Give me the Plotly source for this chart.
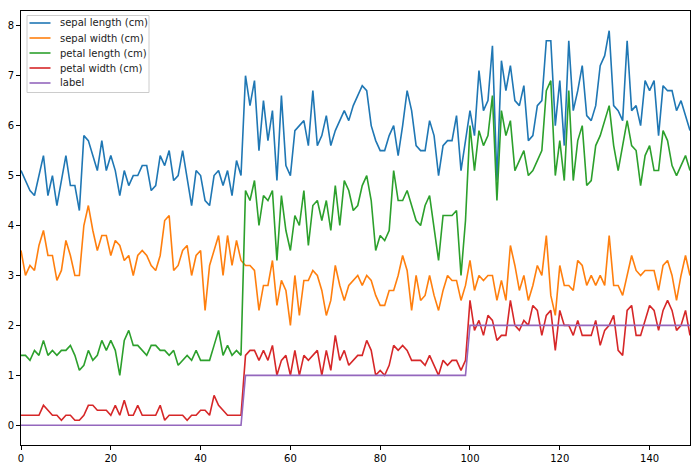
import plotly.graph_objects as go

sepal_length = [5.1,4.9,4.7,4.6,5.0,5.4,4.6,5.0,4.4,4.9,5.4,4.8,4.8,4.3,5.8,5.7,5.4,5.1,5.7,5.1,
5.4,5.1,4.6,5.1,4.8,5.0,5.0,5.2,5.2,4.7,4.8,5.4,5.2,5.5,4.9,5.0,5.5,4.9,4.4,5.1,
5.0,4.5,4.4,5.0,5.1,4.8,5.1,4.6,5.3,5.0,
7.0,6.4,6.9,5.5,6.5,5.7,6.3,4.9,6.6,5.2,5.0,5.9,6.0,6.1,5.6,6.7,5.6,5.8,6.2,5.6,
5.9,6.1,6.3,6.1,6.4,6.6,6.8,6.7,6.0,5.7,5.5,5.5,5.8,6.0,5.4,6.0,6.7,6.3,5.6,5.5,
5.5,6.1,5.8,5.0,5.6,5.7,5.7,6.2,5.1,5.7,
6.3,5.8,7.1,6.3,6.5,7.6,4.9,7.3,6.7,7.2,6.5,6.4,6.8,5.7,5.8,6.4,6.5,7.7,7.7,6.0,
6.9,5.6,7.7,6.3,6.7,7.2,6.2,6.1,6.4,7.2,7.4,7.9,6.4,6.3,6.1,7.7,6.3,6.4,6.0,6.9,
6.7,6.9,5.8,6.8,6.7,6.7,6.3,6.5,6.2,5.9]

sepal_width = [3.5,3.0,3.2,3.1,3.6,3.9,3.4,3.4,2.9,3.1,3.7,3.4,3.0,3.0,4.0,4.4,3.9,3.5,3.8,3.8,
3.4,3.7,3.6,3.3,3.4,3.0,3.4,3.5,3.4,3.2,3.1,3.4,4.1,4.2,3.1,3.2,3.5,3.6,3.0,3.4,
3.5,2.3,3.2,3.5,3.8,3.0,3.8,3.2,3.7,3.3,
3.2,3.2,3.1,2.3,2.8,2.8,3.3,2.4,2.9,2.7,2.0,3.0,2.2,2.9,2.9,3.1,3.0,2.7,2.2,2.5,
3.2,2.8,2.5,2.8,2.9,3.0,2.8,3.0,2.9,2.6,2.4,2.4,2.7,2.7,3.0,3.4,3.1,2.3,3.0,2.5,
2.6,3.0,2.6,2.3,2.7,3.0,2.9,2.9,2.5,2.8,
3.3,2.7,3.0,2.9,3.0,3.0,2.5,2.9,2.5,3.6,3.2,2.7,3.0,2.5,2.8,3.2,3.0,3.8,2.6,2.2,
3.2,2.8,2.8,2.7,3.3,3.2,2.8,3.0,2.8,3.0,2.8,3.8,2.8,2.8,2.6,3.0,3.4,3.1,3.0,3.1,
3.1,3.1,2.7,3.2,3.3,3.0,2.5,3.0,3.4,3.0]

petal_length = [1.4,1.4,1.3,1.5,1.4,1.7,1.4,1.5,1.4,1.5,1.5,1.6,1.4,1.1,1.2,1.5,1.3,1.4,1.7,1.5,
1.7,1.5,1.0,1.7,1.9,1.6,1.6,1.5,1.4,1.6,1.6,1.5,1.5,1.4,1.5,1.2,1.3,1.4,1.3,1.5,
1.3,1.3,1.3,1.6,1.9,1.4,1.6,1.4,1.5,1.4,
4.7,4.5,4.9,4.0,4.6,4.5,4.7,3.3,4.6,3.9,3.5,4.2,4.0,4.7,3.6,4.4,4.5,4.1,4.5,3.9,
4.8,4.0,4.9,4.7,4.3,4.4,4.8,5.0,4.5,3.5,3.8,3.7,3.9,5.1,4.5,4.5,4.7,4.4,4.1,4.0,
4.4,4.6,4.0,3.3,4.2,4.2,4.2,4.3,3.0,4.1,
6.0,5.1,5.9,5.6,5.8,6.6,4.5,6.3,5.8,6.1,5.1,5.3,5.5,5.0,5.1,5.3,5.5,6.7,6.9,5.0,
5.7,4.9,6.7,4.9,5.7,6.0,4.8,4.9,5.6,5.8,6.1,6.4,5.6,5.1,5.6,6.1,5.6,5.5,4.8,5.4,
5.6,5.1,5.1,5.9,5.7,5.2,5.0,5.2,5.4,5.1]

petal_width = [0.2,0.2,0.2,0.2,0.2,0.4,0.3,0.2,0.2,0.1,0.2,0.2,0.1,0.1,0.2,0.4,0.4,0.3,0.3,0.3,
0.2,0.4,0.2,0.5,0.2,0.2,0.4,0.2,0.2,0.2,0.2,0.4,0.1,0.2,0.2,0.2,0.2,0.1,0.2,0.2,
0.3,0.3,0.2,0.6,0.4,0.3,0.2,0.2,0.2,0.2,
1.4,1.5,1.5,1.3,1.5,1.3,1.6,1.0,1.3,1.4,1.0,1.5,1.0,1.4,1.3,1.4,1.5,1.0,1.5,1.1,
1.8,1.3,1.5,1.2,1.3,1.4,1.4,1.7,1.5,1.0,1.1,1.0,1.2,1.6,1.5,1.6,1.5,1.3,1.3,1.3,
1.2,1.4,1.2,1.0,1.3,1.2,1.3,1.3,1.1,1.3,
2.5,1.9,2.1,1.8,2.2,2.1,1.7,1.8,1.8,2.5,2.0,1.9,2.1,2.0,2.4,2.3,1.8,2.2,2.3,1.5,
2.3,2.0,2.0,1.8,2.1,1.8,1.8,1.8,2.1,1.6,1.9,2.0,2.2,1.5,1.4,2.3,2.4,1.8,1.8,2.1,
2.4,2.3,1.9,2.3,2.5,2.3,1.9,2.0,2.3,1.8]

label = [0]*50 + [1]*50 + [2]*50

series_names = ["sepal length (cm)", "sepal width (cm)", "petal length (cm)", "petal width (cm)", "label"]
series_values = [sepal_length, sepal_width, petal_length, petal_width, label]
colors = ["#1f77b4", "#ff7f0e", "#2ca02c", "#d62728", "#9467bd"]

x_ticks = [0, 20, 40, 60, 80, 100, 120, 140]
y_ticks = [0, 1, 2, 3, 4, 5, 6, 7, 8]

idx = list(range(len(sepal_length)))

W, H = 700, 469
ML, MR, MT, MB = 21, 10, 11, 24
PW, PH = W - ML - MR, H - MT - MB

def px_x(p):
    return (p - ML) / PW

def px_y(p):
    return (H - MB - p) / PH

fig = go.Figure()
for name, vals, c in zip(series_names, series_values, colors):
    fig.add_trace(go.Scatter(x=idx, y=vals, mode="lines", name=name,
                             line=dict(color=c, width=1.6), showlegend=False))

axis_common = dict(showgrid=False, zeroline=False, showline=True, linecolor="#000",
                   linewidth=1, mirror=True, ticks="outside", ticklen=4, tickwidth=1,
                   tickcolor="#000", automargin=False,
                   tickfont=dict(family="DejaVu Sans", size=10, color="#000"))

fig.update_xaxes(range=[0, 149], tickvals=x_ticks, **axis_common)
fig.update_yaxes(range=[-0.395, 8.295], tickvals=y_ticks, **axis_common)

# manual legend (matplotlib style)
shapes = [dict(type="rect", xref="paper", yref="paper",
               x0=px_x(27), x1=px_x(149), y0=px_y(15.5), y1=px_y(92.5),
               line=dict(color="#cccccc", width=1), fillcolor="rgba(255,255,255,0.8)",
               layer="above")]
annotations = []
item_y = [23, 38, 53, 68, 83]
for name, c, yy in zip(series_names, colors, item_y):
    shapes.append(dict(type="line", xref="paper", yref="paper",
                       x0=px_x(29.5), x1=px_x(50.5), y0=px_y(yy), y1=px_y(yy),
                       line=dict(color=c, width=1.6), layer="above"))
    annotations.append(dict(xref="paper", yref="paper", x=px_x(57.5), y=px_y(yy),
                            xanchor="left", yanchor="middle", text=name, showarrow=False,
                            font=dict(family="DejaVu Sans", size=10, color="#222")))

fig.update_layout(
    width=W, height=H,
    margin=dict(l=ML, r=MR, t=MT, b=MB),
    plot_bgcolor="white", paper_bgcolor="white",
    font=dict(family="DejaVu Sans", size=10, color="#000"),
    showlegend=False, shapes=shapes, annotations=annotations,
)

fig.write_html("out.html", config={"displayModeBar": False},
               post_script="document.body.style.margin='0';document.body.style.overflow='hidden';")
